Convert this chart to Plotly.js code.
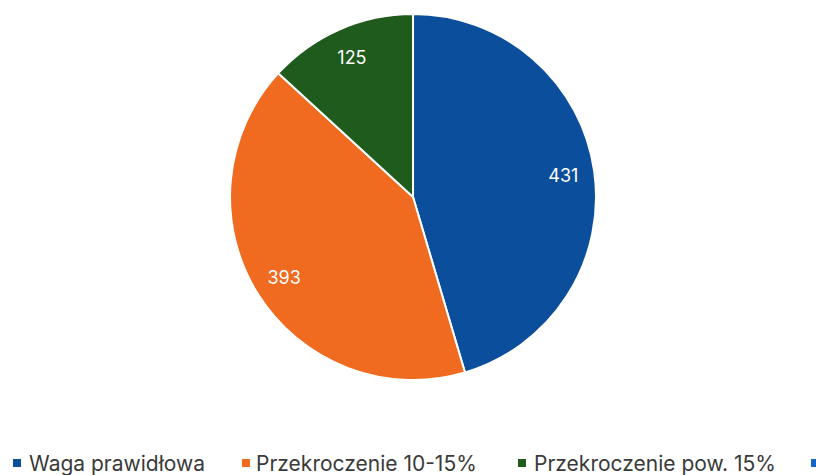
<!DOCTYPE html>
<html>
<head>
<meta charset="utf-8">
<script src="https://cdn.plot.ly/plotly-3.0.1.min.js"></script>
<style>
  html, body { margin: 0; padding: 0; background: #ffffff; }
  #chart { width: 816px; height: 475px; }
</style>
</head>
<body>
<div id="chart"></div>
<script>
// Weight categories and counts
const categories = ["Waga prawidłowa", "Przekroczenie 10-15%", "Przekroczenie pow. 15%", "Niedowaga"];
const counts = [431, 393, 125, 0];
const sliceColors = ["#0b4f9c", "#f06a1f", "#1e5b1c", "#1565c8"];

const W = 816, H = 475;
const FONT = "Inter, Roboto, sans-serif";
const pieDomain = { x: [0.2819, 0.7304], y: [0.2, 0.9705] };

// Filled slices
const slices = {
  type: "pie",
  labels: categories,
  values: counts,
  sort: false,
  direction: "clockwise",
  rotation: 0,
  textinfo: "none",
  marker: { colors: sliceColors, line: { color: "#ffffff", width: 2 } },
  hoverinfo: "label+value",
  showlegend: false,
  domain: pieDomain
};

// Same slices as a transparent ring so the value labels sit toward the rim
const valueRing = {
  type: "pie",
  labels: categories,
  values: counts,
  sort: false,
  direction: "clockwise",
  rotation: 0,
  hole: 0.66,
  textinfo: "value",
  textposition: "inside",
  insidetextorientation: "horizontal",
  textfont: { family: FONT, size: 18, color: "#ffffff" },
  marker: { colors: categories.map(() => "rgba(0,0,0,0)"), line: { width: 0 } },
  hoverinfo: "skip",
  showlegend: false,
  domain: pieDomain
};

// Bottom legend row (the last entry runs past the right edge; only its swatch shows)
const legendSwatchX = [13, 242, 518, 811];
const legendTextX = [27, 254, 532];
const legendY = 463;
const swatch = 8;

const shapes = categories.map((c, i) => ({
  type: "rect",
  xref: "paper", yref: "paper",
  x0: legendSwatchX[i] / W, x1: (legendSwatchX[i] + swatch) / W,
  y0: 1 - (legendY + swatch / 2) / H, y1: 1 - (legendY - swatch / 2) / H,
  fillcolor: sliceColors[i],
  line: { width: 0 }
}));

const annotations = legendTextX.map((x, i) => ({
  xref: "paper", yref: "paper",
  x: x / W, y: 1 - legendY / H,
  xanchor: "left", yanchor: "middle",
  text: categories[i],
  showarrow: false,
  font: { family: FONT, size: 21, color: "#3a3a3a" }
}));

const layout = {
  width: W,
  height: H,
  margin: { l: 0, r: 0, t: 0, b: 0 },
  paper_bgcolor: "#ffffff",
  showlegend: false,
  shapes: shapes,
  annotations: annotations
};

Plotly.newPlot("chart", [slices, valueRing], layout, { displayModeBar: false, staticPlot: true });
</script>
</body>
</html>
